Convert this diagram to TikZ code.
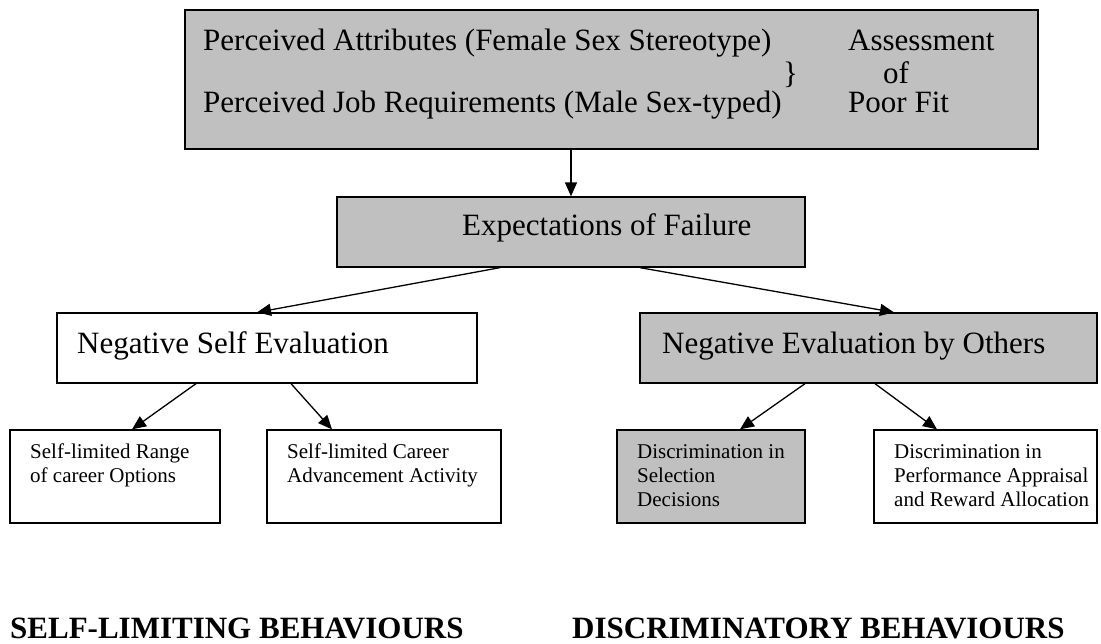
\documentclass[tikz,border=0pt]{standalone}
\usepackage{fontspec}
\setmainfont{Liberation Serif}
\usepackage{tikz}
\usetikzlibrary{arrows.meta}
\definecolor{boxgray}{HTML}{C0C0C0}
\tikzset{box/.style={draw=black, line width=1.3pt, inner sep=0pt}, graybox/.style={box, fill=boxgray}}
\tikzset{
    bigtxt/.style={inner sep=0pt, anchor=base west, font=\fontsize{31}{36}\selectfont},
    smalltxt/.style={inner sep=0pt, anchor=north west, align=left, font=\fontsize{21}{24}\selectfont},
    headtxt/.style={inner sep=0pt, anchor=base west, font=\fontsize{31}{36}\selectfont\bfseries},
    arr/.style={-{Triangle[length=14pt,width=12pt]}, line width=1.3pt},
}

\begin{document}
\begin{tikzpicture}[x=1pt, y=-1pt]
                \useasboundingbox (0,0) rectangle (1101,643);

                \node[graybox, line width=2.2pt, minimum width=853, minimum height=139] (attr) at (611.5,79.5) {};
                \node[bigtxt] (attrfem) at (203,50) {Perceived Attributes (Female Sex Stereotype)};
                \node[bigtxt] (attrjob) at (203,112) {Perceived Job Requirements (Male Sex-typed)};
                \node[bigtxt] (brace) at (783,83) {\}};
                \node[bigtxt] (fitA) at (848,50) {Assessment};
                \node[bigtxt] (fitB) at (883,83) {of};
                \node[bigtxt] (fitC) at (848,112) {Poor Fit};

                \node[graybox, minimum width=468, minimum height=70] (exp) at (571,232) {};
                \node[bigtxt] (exptxt) at (462,235) {Expectations of Failure};

                \node[box, minimum width=420, minimum height=70] (nse) at (267,348) {};
                \node[bigtxt] (nsetxt) at (77,353) {Negative Self Evaluation};
                \node[graybox, minimum width=457, minimum height=70] (neo) at (868.5,348) {};
                \node[bigtxt] (neotxt) at (662,353) {Negative Evaluation by Others};

                \node[box, minimum width=210, minimum height=93] (rng) at (115,476.5) {};
                \node[smalltxt] (rngtxt) at (30,444) {Self-limited Range\\of career Options};
                \node[box, minimum width=234, minimum height=93] (adv) at (384,476.5) {};
                \node[smalltxt] (advtxt) at (287,444) {Self-limited Career\\Advancement Activity};
                \node[graybox, minimum width=188, minimum height=93] (sel) at (711,476.5) {};
                \node[smalltxt] (seltxt) at (637,444) {Discrimination in\\Selection\\Decisions};
                \node[box, minimum width=223, minimum height=93] (apr) at (985.5,476.5) {};
                \node[smalltxt] (aprtxt) at (894,444) {Discrimination in\\Performance Appraisal\\and Reward Allocation};

                \node[headtxt] (selflim) at (10,638) {SELF-LIMITING BEHAVIOURS};
                \node[headtxt] (discrim) at (572,638) {DISCRIMINATORY BEHAVIOURS};

                \draw[arr] (attr.south -| exp.north) -- (exp.north);
                \draw[arr] ([xshift=-71pt]exp.south) -- ([xshift=-10pt]nse.north);
                \draw[arr] ([xshift=69pt]exp.south) -- ([xshift=25.5pt]neo.north);

                \draw[arr] ([xshift=-71pt]nse.south) -- ([xshift=17pt]rng.north);
                \draw[arr] ([xshift=24pt]nse.south) -- ([xshift=-52pt]adv.north);
                \draw[arr] ([xshift=-63.5pt]neo.south) -- ([xshift=29pt]sel.north);
                \draw[arr] ([xshift=6.5pt]neo.south) -- ([xshift=-48.5pt]apr.north);

\end{tikzpicture}
\end{document}
